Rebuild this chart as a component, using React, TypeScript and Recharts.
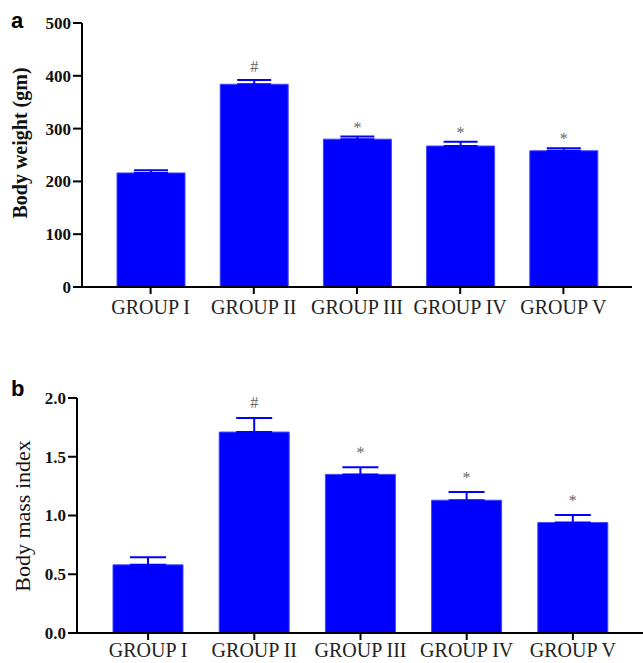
import React from 'react';
import { BarChart, Bar, XAxis, YAxis, ErrorBar, LabelList } from 'recharts';

const groups = ['GROUP I', 'GROUP II', 'GROUP III', 'GROUP IV', 'GROUP V'];
const marks = ['', '#', '*', '*', '*'];

// body weight (gm), mean and SEM
const weightMean = [216, 384, 280, 267, 258];
const weightSem = [5, 8, 5, 8, 5];
const weightTicks = [0, 100, 200, 300, 400, 500];

// body mass index, mean and SEM
const bmiMean = [0.58, 1.71, 1.35, 1.13, 0.94];
const bmiSem = [0.065, 0.12, 0.06, 0.07, 0.065];
const bmiTicks = [0, 0.5, 1.0, 1.5, 2.0];

const serif = '"Liberation Serif", "Times New Roman", serif';
const sans = '"Liberation Sans", Arial, sans-serif';
const BLUE = '#0000ff';

const buildRows = (mean: number[], sem: number[]) =>
  groups.map((g, i) => ({ group: g, value: mean[i], err: [0, sem[i]], mark: marks[i] }));

const weightRows = buildRows(weightMean, weightSem);
const bmiRows = buildRows(bmiMean, bmiSem);

// significance symbol placed above the error bar cap
const markLabel = (mean: number[], sem: number[], hashLift: number, starLift: number) =>
  (props: any) => {
    const { x, y, width, height, index } = props;
    const m = marks[index];
    if (!m) return null;
    const capY = Number(y) - (sem[index] / mean[index]) * Number(height);
    const lift = m === '#' ? hashLift : starLift;
    return (
      <text
        x={Number(x) + Number(width) / 2}
        y={capY - lift}
        textAnchor="middle"
        fontFamily={serif}
        fontSize={16}
        fill="#666"
      >
        {m}
      </text>
    );
  };

// bold serif numbers on the value axis
const valueTick = (fmt: (v: number) => string) =>
  (props: any) => {
    const { x, y, payload } = props;
    return (
      <text
        x={x}
        y={y}
        dy="0.35em"
        textAnchor="end"
        fontFamily={serif}
        fontSize={17}
        fontWeight="bold"
        fill="#111"
      >
        {fmt(payload.value)}
      </text>
    );
  };

const yTitle = (text: string, cx: number, cy: number, size: number, weight: string) =>
  () => (
    <text
      x={cx}
      y={cy}
      transform={`rotate(-90, ${cx}, ${cy})`}
      textAnchor="middle"
      dominantBaseline="central"
      fontFamily={serif}
      fontSize={size}
      fontWeight={weight}
      fill="#111"
    >
      {text}
    </text>
  );

const axisLine = { stroke: '#000', strokeWidth: 2 };

export default function App() {
  return (
    <div style={{ position: 'absolute', left: 0, top: 0, width: 643, height: 663, background: '#fff' }}>
      <div style={{ position: 'absolute', left: 11, top: 8, fontFamily: sans, fontWeight: 'bold', fontSize: 22, lineHeight: '26px' }}>
        a
      </div>
      <div style={{ position: 'absolute', left: 11, top: 376, fontFamily: sans, fontWeight: 'bold', fontSize: 22, lineHeight: '26px' }}>
        b
      </div>

      <div style={{ position: 'absolute', left: 0, top: 0 }}>
        <BarChart width={643} height={327} data={weightRows} margin={{ top: 23, right: 11, left: 0, bottom: 0 }} barSize={68}>
          <XAxis
            dataKey="group"
            height={40}
            padding={{ left: 17, right: 17 }}
            axisLine={axisLine}
            tickLine={axisLine}
            tickSize={7}
            tickMargin={6}
            tick={{ fill: '#222', fontSize: 20, fontFamily: serif }}
          />
          <YAxis
            width={82}
            domain={[0, 500]}
            ticks={weightTicks}
            interval={0}
            axisLine={axisLine}
            tickLine={axisLine}
            tickSize={9}
            tickMargin={2}
            tick={valueTick((v) => String(v))}
            label={{ content: yTitle('Body weight (gm)', 20, 143, 20, 'bold') }}
          />
          <Bar dataKey="value" fill={BLUE} stroke="#4545ff" strokeWidth={1} isAnimationActive={false}>
            <ErrorBar dataKey="err" direction="y" width={17} stroke={BLUE} strokeWidth={2} />
            <LabelList dataKey="mark" content={markLabel(weightMean, weightSem, 8, 4)} />
          </Bar>
        </BarChart>
      </div>

      <div style={{ position: 'absolute', left: 0, top: 330 }}>
        <BarChart width={643} height={333} data={bmiRows} margin={{ top: 68, right: 0, left: 0, bottom: 0 }} barSize={70}>
          <XAxis
            dataKey="group"
            height={30}
            padding={{ left: 18, right: 17 }}
            axisLine={axisLine}
            tickLine={axisLine}
            tickSize={7}
            tickMargin={3}
            tick={{ fill: '#222', fontSize: 20, fontFamily: serif }}
          />
          <YAxis
            width={77}
            domain={[0, 2]}
            ticks={bmiTicks}
            interval={0}
            axisLine={axisLine}
            tickLine={axisLine}
            tickSize={9}
            tickMargin={2}
            tick={valueTick((v) => v.toFixed(1))}
            label={{ content: yTitle('Body mass index', 22, 186, 22, 'normal') }}
          />
          <Bar dataKey="value" fill={BLUE} stroke="#4545ff" strokeWidth={1} isAnimationActive={false}>
            <ErrorBar dataKey="err" direction="y" width={18} stroke={BLUE} strokeWidth={2} />
            <LabelList dataKey="mark" content={markLabel(bmiMean, bmiSem, 10, 9)} />
          </Bar>
        </BarChart>
      </div>
    </div>
  );
}
